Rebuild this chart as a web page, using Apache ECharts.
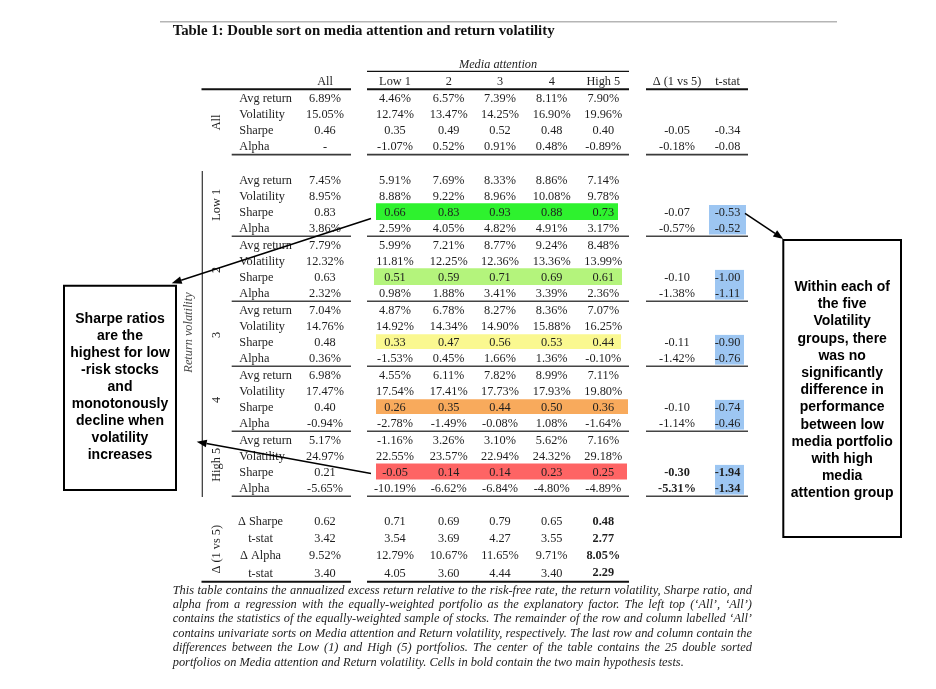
<!DOCTYPE html>
<html><head><meta charset="utf-8">
<script src="https://cdn.jsdelivr.net/npm/echarts@6/dist/echarts.min.js"></script>
<style>html,body{margin:0;padding:0;background:#fff}#chart{width:936px;height:689px}</style>
</head><body><div id="chart"></div>
<script>
// ---------------- DATA ----------------
const titleText = 'Table 1: Double sort on media attention and return volatility';
const mediaTitle = 'Media attention';
const mediaCols = ['Low 1', '2', '3', '4', 'High 5'];
const allColLabel = 'All';
const deltaColLabel = 'Δ (1 vs 5)';
const tColLabel = 't-stat';
const statRows = ['Avg return', 'Volatility', 'Sharpe', 'Alpha'];
const statIsPct = [true, true, false, true];
const volGroups = ['Low 1', '2', '3', '4', 'High 5'];
const volAxisTitle = 'Return volatility';

// "All" volatility group (univariate sort on media attention)
const allGroupAll = [6.89, 15.05, 0.46, null];
const allGroupMedia = [
  [4.46, 6.57, 7.39, 8.11, 7.90],
  [12.74, 13.47, 14.25, 16.90, 19.96],
  [0.35, 0.49, 0.52, 0.48, 0.40],
  [-1.07, 0.52, 0.91, 0.48, -0.89]
];
const allGroupDeltaSharpe = -0.05, allGroupDeltaAlpha = -0.18;
const allGroupTSharpe = -0.34, allGroupTAlpha = -0.08;

// Volatility groups: "All" column per group [avg, vol, sharpe, alpha]
const volAll = [
  [7.45, 8.95, 0.83, 3.86],
  [7.79, 12.32, 0.63, 2.32],
  [7.04, 14.76, 0.48, 0.36],
  [6.98, 17.47, 0.40, -0.94],
  [5.17, 24.97, 0.21, -5.65]
];
const volAvgReturn = [
  [5.91, 7.69, 8.33, 8.86, 7.14],
  [5.99, 7.21, 8.77, 9.24, 8.48],
  [4.87, 6.78, 8.27, 8.36, 7.07],
  [4.55, 6.11, 7.82, 8.99, 7.11],
  [-1.16, 3.26, 3.10, 5.62, 7.16]
];
const volVolatility = [
  [8.88, 9.22, 8.96, 10.08, 9.78],
  [11.81, 12.25, 12.36, 13.36, 13.99],
  [14.92, 14.34, 14.90, 15.88, 16.25],
  [17.54, 17.41, 17.73, 17.93, 19.80],
  [22.55, 23.57, 22.94, 24.32, 29.18]
];
const volSharpe = [
  [0.66, 0.83, 0.93, 0.88, 0.73],
  [0.51, 0.59, 0.71, 0.69, 0.61],
  [0.33, 0.47, 0.56, 0.53, 0.44],
  [0.26, 0.35, 0.44, 0.50, 0.36],
  [-0.05, 0.14, 0.14, 0.23, 0.25]
];
const volAlpha = [
  [2.59, 4.05, 4.82, 4.91, 3.17],
  [0.98, 1.88, 3.41, 3.39, 2.36],
  [-1.53, 0.45, 1.66, 1.36, -0.10],
  [-2.78, -1.49, -0.08, 1.08, -1.64],
  [-10.19, -6.62, -6.84, -4.80, -4.89]
];
const volDeltaSharpe = [-0.07, -0.10, -0.11, -0.10, -0.30];
const volDeltaAlpha = [-0.57, -1.38, -1.42, -1.14, -5.31];
const volTSharpe = [-0.53, -1.00, -0.90, -0.74, -1.94];
const volTAlpha = [-0.52, -1.11, -0.76, -0.46, -1.34];

// Difference (1 vs 5) rows
const diffGroupLabel = 'Δ (1 vs 5)';
const diffRowLabels = ['Δ Sharpe', 't-stat', 'Δ Alpha', 't-stat'];
const diffIsPct = [false, false, true, false];
const diffAll = [0.62, 3.42, 9.52, 3.40];
const diffMedia = [
  [0.71, 0.69, 0.79, 0.65, 0.48],
  [3.54, 3.69, 4.27, 3.55, 2.77],
  [12.79, 10.67, 11.65, 9.71, 8.05],
  [4.05, 3.60, 4.44, 3.40, 2.29]
];

const captionLines = [
  'This table contains the annualized excess return relative to the risk-free rate, the return volatility, Sharpe ratio, and',
  'alpha from a regression with the equally-weighted portfolio as the explanatory factor. The left top (‘All’, ‘All’)',
  'contains the statistics of the equally-weighted sample of stocks. The remainder of the row and column labelled ‘All’',
  'contains univariate sorts on Media attention and Return volatility, respectively. The last row and column contain the',
  'differences between the Low (1) and High (5) portfolios. The center of the table contains the 25 double sorted',
  'portfolios on Media attention and Return volatility. Cells in bold contain the two main hypothesis tests.'
];
const noteLeft = ['Sharpe ratios', 'are the', 'highest for low', '-risk stocks', 'and', 'monotonously', 'decline when', 'volatility', 'increases'];
const noteRight = ['Within each of', 'the five', 'Volatility', 'groups, there', 'was no', 'significantly', 'difference in', 'performance', 'between low', 'media portfolio', 'with high', 'media', 'attention group'];

// ---------------- LAYOUT / STYLE ----------------
const SERIF = '"Liberation Serif", "Times New Roman", serif';
const SANS = '"Liberation Sans", Arial, sans-serif';
const FS = 12.3;
const TXT = '#1e1e1e';
const L = {
  labelX: 239.3, diffLabelX: 260.5, colAll: 325,
  colMedia: [395, 448.7, 500, 551.7, 603.3], colDelta: 677, colT: 727.5,
  groupLabelX: 216.7, volTitleX: 188.3,
  headerY: 82, mediaTitleY: 64.3, mediaTitleX: 498,
  all0: 98.3, allStep: 16.13,
  grp0: 180.7, grpStep: 65, grpRowStep: 16.1,
  diff0: 521.7, diffStep: 17.2,
  segL: [231.7, 351], segLwide: [201.5, 351], segM: [367, 629], segR: [646, 748]
};
const yAll = r => L.all0 + r * L.allStep;
const yGrp = (k, r) => L.grp0 + k * L.grpStep + r * L.grpRowStep;
const yDiff = r => L.diff0 + r * L.diffStep;
const sharpeFill = ['#2ef22e', '#b4f47c', '#faf890', '#f8aa5c', '#fe6464'];
const sharpeSpan = [[376, 618], [374, 622], [376, 621], [376, 628], [376, 627]];
const sharpeH = [16.6, 16.6, 14.6, 14.6, 16];
const tFill = '#9dc6f2';
const tSpan = [[709, 746], [715, 744], [715, 744], [715, 744], [715, 744]];

const fmt = (v, pct) => v == null ? '-' : v.toFixed(2) + (pct ? '%' : '');

// ---------------- BUILD CELLS ----------------
const textCells = [];
function addText(text, x, y, o) {
  o = o || {};
  textCells.push({ value: [x, y], text: text, align: o.align || 'center', bold: !!o.bold,
    italic: !!o.italic, rot: o.rot || 0, color: o.color || TXT, size: o.size || FS });
}
// headers
addText(mediaTitle, L.mediaTitleX, L.mediaTitleY, { italic: true });
addText(allColLabel, L.colAll, L.headerY);
mediaCols.forEach((c, i) => addText(c, L.colMedia[i], L.headerY));
addText(deltaColLabel, L.colDelta, L.headerY);
addText(tColLabel, L.colT, L.headerY);
// All group
addText('All', L.groupLabelX, yAll(1.5), { rot: Math.PI / 2 });
statRows.forEach((s, r) => {
  const y = yAll(r);
  addText(s, L.labelX, y, { align: 'left' });
  addText(fmt(allGroupAll[r], statIsPct[r]), L.colAll, y);
  allGroupMedia[r].forEach((v, i) => addText(fmt(v, statIsPct[r]), L.colMedia[i], y));
});
addText(fmt(allGroupDeltaSharpe, false), L.colDelta, yAll(2));
addText(fmt(allGroupTSharpe, false), L.colT, yAll(2));
addText(fmt(allGroupDeltaAlpha, true), L.colDelta, yAll(3));
addText(fmt(allGroupTAlpha, false), L.colT, yAll(3));
// Volatility groups
const volMat = [volAvgReturn, volVolatility, volSharpe, volAlpha];
volGroups.forEach((g, k) => {
  addText(g, L.groupLabelX, yGrp(k, 1.5), { rot: Math.PI / 2 });
  statRows.forEach((s, r) => {
    const y = yGrp(k, r);
    addText(s, L.labelX, y, { align: 'left' });
    addText(fmt(volAll[k][r], statIsPct[r]), L.colAll, y);
    volMat[r][k].forEach((v, i) => addText(fmt(v, statIsPct[r]), L.colMedia[i], y));
  });
  const bold = k === volGroups.length - 1;
  addText(fmt(volDeltaSharpe[k], false), L.colDelta, yGrp(k, 2), { bold });
  addText(fmt(volTSharpe[k], false), L.colT, yGrp(k, 2), { bold });
  addText(fmt(volDeltaAlpha[k], true), L.colDelta, yGrp(k, 3), { bold });
  addText(fmt(volTAlpha[k], false), L.colT, yGrp(k, 3), { bold });
});
addText(volAxisTitle, L.volTitleX, 332.5, { rot: Math.PI / 2, italic: true, color: '#4a4a4a' });
// Difference rows
addText(diffGroupLabel, L.groupLabelX, yDiff(1.6), { rot: Math.PI / 2 });
diffRowLabels.forEach((s, r) => {
  const y = yDiff(r);
  addText(s, L.diffLabelX, y);
  addText(fmt(diffAll[r], diffIsPct[r]), L.colAll, y);
  diffMedia[r].forEach((v, i) => addText(fmt(v, diffIsPct[r]), L.colMedia[i], y, { bold: i === 4 }));
});

// highlight rectangles
const rects = [];
volGroups.forEach((g, k) => {
  const yc = yGrp(k, 2) - 1.3;
  rects.push({ value: [sharpeSpan[k][0], yc - sharpeH[k] / 2, sharpeSpan[k][1], yc + sharpeH[k] / 2], color: sharpeFill[k] });
  rects.push({ value: [tSpan[k][0], yGrp(k, 2) - 8, tSpan[k][1], yGrp(k, 3) + 5.6], color: tFill });
});

// rules
const rules = [];
function addRule(x0, x1, y0, y1, w, c) { rules.push({ value: [x0, y0, x1, y1], w: w, c: c }); }
addRule(L.segM[0], L.segM[1], 71.3, 71.3, 1.2, '#111');
[L.segLwide, L.segM, L.segR].forEach(s => addRule(s[0], s[1], 89.3, 89.3, 1.9, '#111'));
[L.segL, L.segM, L.segR].forEach(s => addRule(s[0], s[1], 154.7, 154.7, 1.7, '#3a3a3a'));
volGroups.forEach((g, k) => {
  const y = yGrp(k, 3) + 7.2;
  [L.segL, L.segM, L.segR].forEach(s => addRule(s[0], s[1], y, y, 1.6, '#444'));
});
[L.segLwide, L.segM].forEach(s => addRule(s[0], s[1], 581.7, 581.7, 2.1, '#111'));
addRule(202.3, 202.3, 171, 497, 1.2, '#333');

// ---------------- GRAPHIC (title, caption, notes, arrows) ----------------
const graphics = [];
function gText(text, x, y, font, align, color) {
  graphics.push({ type: 'text', x: x, y: y, z: 50,
    style: { text: text, font: font, fill: color || TXT, textAlign: align || 'left', align: align || 'left',
      textVerticalAlign: 'middle', verticalAlign: 'middle' } });
}
graphics.push({ type: 'line', z: 40, shape: { x1: 160, y1: 21.7, x2: 837, y2: 21.7 }, style: { stroke: '#b5b5b5', lineWidth: 1.6 } });
gText(titleText, 172.7, 30.7, 'bold 14.8px ' + SERIF, 'left', '#111');

// caption (justified)
const capFont = 'italic 12.4px ' + SERIF;
const mctx = document.createElement('canvas').getContext('2d');
mctx.font = capFont;
const capX0 = 172.7, capX1 = 752, capY0 = 590.3, capStep = 14.45;
captionLines.forEach((line, i) => {
  const words = line.split(' ');
  const ws = words.map(w => mctx.measureText(w).width);
  const total = ws.reduce((a, b) => a + b, 0);
  const last = i === captionLines.length - 1;
  const gap = last ? mctx.measureText(' ').width : (capX1 - capX0 - total) / (words.length - 1);
  let x = capX0;
  words.forEach((w, j) => { gText(w, x, capY0 + i * capStep, capFont, 'left', '#222'); x += ws[j] + gap; });
});

// note boxes
function noteBox(x0, y0, x1, y1, lines, ly0, lstep) {
  graphics.push({ type: 'rect', z: 45, shape: { x: x0, y: y0, width: x1 - x0, height: y1 - y0 },
    style: { fill: '#fff', stroke: '#000', lineWidth: 2 } });
  lines.forEach((t, i) => gText(t, (x0 + x1) / 2, ly0 + i * lstep, 'bold 14px ' + SANS, 'center', '#000'));
}
noteBox(64, 285.7, 176, 490, noteLeft, 319.3, 16.96);
noteBox(783.3, 240, 901, 537, noteRight, 287.3, 17.17);

function arrow(x0, y0, x1, y1) {
  const a = Math.atan2(y1 - y0, x1 - x0), len = 10, w = 3.8;
  const bx = x1 - len * Math.cos(a), by = y1 - len * Math.sin(a);
  graphics.push({ type: 'line', z: 60, shape: { x1: x0, y1: y0, x2: bx, y2: by }, style: { stroke: '#000', lineWidth: 1.5 } });
  graphics.push({ type: 'polygon', z: 60, shape: { points: [[x1, y1], [bx + w * Math.sin(a), by - w * Math.cos(a)], [bx - w * Math.sin(a), by + w * Math.cos(a)]] },
    style: { fill: '#000' } });
}
arrow(371, 218.5, 171.7, 283.3);
arrow(371, 473.5, 196.7, 441.7);
arrow(745, 213.3, 783.3, 239);

// ---------------- CHART ----------------
const chart = echarts.init(document.getElementById('chart'), null, { renderer: 'canvas' });
chart.setOption({
  animation: false,
  backgroundColor: '#fff',
  grid: { left: 0, right: 0, top: 0, bottom: 0 },
  xAxis: { type: 'value', min: 0, max: 936, show: false },
  yAxis: { type: 'value', min: 0, max: 689, inverse: true, show: false },
  graphic: { elements: graphics },
  series: [
    {
      type: 'custom', name: 'highlight', z: 1, silent: true,
      data: rects.map(r => r.value),
      renderItem: function (params, api) {
        const p0 = api.coord([api.value(0), api.value(1)]);
        const p1 = api.coord([api.value(2), api.value(3)]);
        return { type: 'rect', shape: { x: p0[0], y: Math.min(p0[1], p1[1]), width: p1[0] - p0[0], height: Math.abs(p1[1] - p0[1]) },
          style: { fill: rects[params.dataIndex].color } };
      }
    },
    {
      type: 'custom', name: 'rules', z: 2, silent: true,
      data: rules.map(r => r.value),
      renderItem: function (params, api) {
        const p0 = api.coord([api.value(0), api.value(1)]);
        const p1 = api.coord([api.value(2), api.value(3)]);
        const r = rules[params.dataIndex];
        return { type: 'line', shape: { x1: p0[0], y1: p0[1], x2: p1[0], y2: p1[1] }, style: { stroke: r.c, lineWidth: r.w } };
      }
    },
    {
      type: 'custom', name: 'cells', z: 3, silent: true,
      data: textCells.map(c => c.value),
      renderItem: function (params, api) {
        const p = api.coord([api.value(0), api.value(1)]);
        const c = textCells[params.dataIndex];
        const font = (c.italic ? 'italic ' : '') + (c.bold ? 'bold ' : '') + c.size + 'px ' + SERIF;
        return { type: 'text', x: p[0], y: p[1], rotation: c.rot,
          style: { text: c.text, font: font, fill: c.color, textAlign: c.align, align: c.align,
            textVerticalAlign: 'middle', verticalAlign: 'middle' } };
      }
    }
  ]
});
</script></body></html>
